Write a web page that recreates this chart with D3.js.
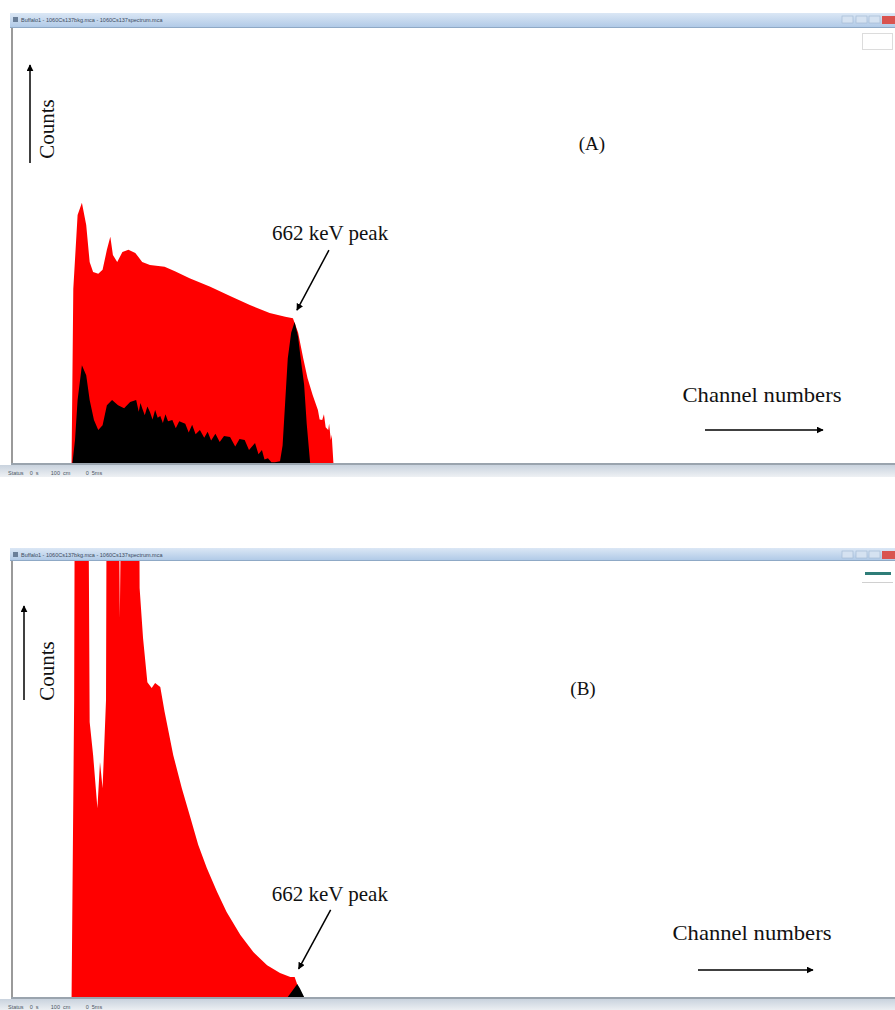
<!DOCTYPE html>
<html>
<head>
<meta charset="utf-8">
<script src="https://cdn.jsdelivr.net/npm/d3@7"></script>
<style>
  html, body { margin: 0; padding: 0; background: #fff; }
  svg { display: block; }
</style>
</head>
<body>
<script>
// Spectrum (A): channel numbers and counts
const aRedChannels = [66, 68, 70, 75, 80, 85, 89, 93, 99, 104, 109, 113, 116, 121, 127, 134, 142, 150, 159, 176, 188, 205, 229, 252, 275, 298, 316, 325, 331, 337, 342, 348, 354, 356, 359, 361, 363, 366, 367, 369, 370, 372];
const aRedCounts   = [0, 0, 400, 570, 598, 547, 462, 439, 435, 444, 490, 520, 478, 462, 485, 490, 483, 462, 455, 451, 441, 425, 405, 384, 363, 345, 336, 333, 300, 240, 195, 156, 122, 100, 99, 112, 82, 76, 90, 53, 65, 0];

const aBlackChannels = [69, 72, 75, 80, 85, 89, 94, 99, 104, 109, 115, 122, 129, 136, 143, 146, 148, 150, 153, 156, 159, 162, 165, 168, 171, 174, 177, 180, 185, 189, 193, 200, 204, 208, 212, 217, 222, 226, 230, 235, 240, 245, 252, 258, 263, 269, 274, 281, 285, 289, 292, 296, 300, 304, 310, 313, 316, 319, 323, 327, 331, 334, 338, 341, 345];
const aBlackCounts   = [0, 53, 145, 225, 202, 145, 99, 76, 87, 133, 145, 133, 126, 140, 145, 118, 138, 126, 110, 130, 117, 100, 122, 104, 108, 92, 112, 96, 99, 80, 96, 90, 70, 88, 66, 76, 58, 72, 52, 67, 48, 62, 60, 38, 55, 53, 30, 46, 20, 30, 8, 11, 2, 2, 4, 40, 140, 240, 300, 324, 290, 240, 180, 90, 0];

// Spectrum (B): low region goes off scale
const bRedChannels = [68, 71, 72, 87, 89, 93, 98, 101, 104, 108, 109, 122, 124, 127, 146, 147, 151, 156, 161, 165, 171, 176, 186, 196, 206, 215, 225, 237, 248, 264, 279, 295, 310, 322, 327, 331, 333, 336];
const bRedCounts   = [0, 681, 1400, 1400, 631, 555, 433, 539, 479, 681, 1400, 1400, 869, 1400, 1400, 938, 823, 722, 709, 720, 711, 654, 555, 479, 411, 349, 296, 241, 195, 142, 103, 73, 55, 46, 46, 23, 9, 0];

const bBlackChannels = [319, 325, 330, 333, 338];
const bBlackCounts   = [0, 16, 30, 20, 0];

const panelLabels = ["(A)", "(B)"];
const peakLabel = "662 keV peak";
const xLabel = "Channel numbers";
const yLabel = "Counts";
const windowTitle = "Buffalo1 - 1060Cs137bkg.mca - 1060Cs137spectrum.mca";
const statusText = "Status    0  s        100  cm          0  5ms";

const W = 895, H = 1010;
const channelMax = 1024, countMax = 1000;

const svg = d3.select("body").append("svg")
  .attr("width", W)
  .attr("height", H);

const defs = svg.append("defs");

const grad = defs.append("linearGradient")
  .attr("id", "titleGrad")
  .attr("x1", 0).attr("y1", 0).attr("x2", 0).attr("y2", 1);
grad.append("stop").attr("offset", "0%").attr("stop-color", "#dbe7f5");
grad.append("stop").attr("offset", "100%").attr("stop-color", "#aec8e6");

const sgrad = defs.append("linearGradient")
  .attr("id", "statusGrad")
  .attr("x1", 0).attr("y1", 0).attr("x2", 0).attr("y2", 1);
sgrad.append("stop").attr("offset", "0%").attr("stop-color", "#c9d3de");
sgrad.append("stop").attr("offset", "100%").attr("stop-color", "#eef1f4");

defs.append("marker")
  .attr("id", "head")
  .attr("viewBox", "0 0 10 10")
  .attr("refX", 9).attr("refY", 5)
  .attr("markerWidth", 7).attr("markerHeight", 7)
  .attr("markerUnits", "userSpaceOnUse")
  .attr("orient", "auto")
  .append("path")
  .attr("d", "M0,0 L10,5 L0,10 Z")
  .attr("fill", "#000");

const x = d3.scaleLinear().domain([0, channelMax]).range([13, 895]);

const panels = [
  {
    id: "A", label: panelLabels[0],
    titleTop: 13, plotTop: 28, plotBottom: 463,
    red: d3.zip(aRedChannels, aRedCounts),
    black: d3.zip(aBlackChannels, aBlackCounts),
    peak: [325, 333],
    labelPos: [592, 150],
    yArrow: { x: 30, y1: 163, y2: 65 }, yText: { x: 54, y: 129 },
    xText: { x: 762, y: 402 }, xArrow: { y: 430, x1: 705, x2: 823 },
    peakText: { dx: -21, dy: -78 }, peakArrow: { dx: 32, dy: -60 },
    legend: "box"
  },
  {
    id: "B", label: panelLabels[1],
    titleTop: 548, plotTop: 561, plotBottom: 997,
    red: d3.zip(bRedChannels, bRedCounts),
    black: d3.zip(bBlackChannels, bBlackCounts),
    peak: [327, 46],
    labelPos: [583, 695],
    yArrow: { x: 24, y1: 700, y2: 606 }, yText: { x: 54, y: 671 },
    xText: { x: 752, y: 940 }, xArrow: { y: 970, x1: 698, x2: 813 },
    peakText: { dx: -23, dy: -76 }, peakArrow: { dx: 32, dy: -59 },
    legend: "line"
  }
];

panels.forEach((p) => {
  const y = d3.scaleLinear().domain([0, countMax]).range([p.plotBottom, p.plotTop]);
  const g = svg.append("g").attr("class", "panel-" + p.id);

  // window title bar
  g.append("rect")
    .attr("x", 10).attr("y", p.titleTop)
    .attr("width", W - 10).attr("height", p.plotTop - p.titleTop)
    .attr("fill", "url(#titleGrad)");
  g.append("line")
    .attr("x1", 10).attr("x2", W)
    .attr("y1", p.plotTop - 0.5).attr("y2", p.plotTop - 0.5)
    .attr("stroke", "#8fa9c6");
  g.append("rect")
    .attr("x", 13).attr("y", p.titleTop + 4)
    .attr("width", 5).attr("height", 5)
    .attr("fill", "#6a7f99");
  g.append("text")
    .attr("x", 21).attr("y", p.titleTop + 9)
    .attr("font-family", "Liberation Sans, Arial, sans-serif")
    .attr("font-size", 5.5)
    .attr("fill", "#3b4a5c")
    .text(windowTitle);
  // title bar buttons
  [842, 856, 869].forEach((bx) => {
    g.append("rect")
      .attr("x", bx).attr("y", p.titleTop + 3)
      .attr("width", 11).attr("height", 7)
      .attr("fill", "#d5e2f1").attr("stroke", "#9fb6d1").attr("stroke-width", 0.6);
  });
  g.append("rect")
    .attr("x", 882).attr("y", p.titleTop + 3)
    .attr("width", 13).attr("height", 8)
    .attr("fill", "#d9534f");

  // plot area left border
  g.append("rect")
    .attr("x", 11).attr("y", p.plotTop)
    .attr("width", 2).attr("height", p.plotBottom - p.plotTop + 1)
    .attr("fill", "#9a9a9a");

  // spectra, clipped to plot area
  const clipId = "clip" + p.id;
  defs.append("clipPath").attr("id", clipId)
    .append("rect")
    .attr("x", 13).attr("y", p.plotTop)
    .attr("width", W - 13).attr("height", p.plotBottom - p.plotTop);

  const area = d3.area()
    .x((d) => x(d[0]))
    .y0(y(0))
    .y1((d) => y(d[1]));

  const plot = g.append("g").attr("clip-path", `url(#${clipId})`);
  plot.append("path").datum(p.red).attr("d", area).attr("fill", "#ff0000");
  plot.append("path").datum(p.black).attr("d", area).attr("fill", "#000000");

  // bottom border + status bar
  g.append("rect")
    .attr("x", 11).attr("y", p.plotBottom)
    .attr("width", W - 11).attr("height", 2)
    .attr("fill", "#9aa4ae");
  g.append("rect")
    .attr("x", 0).attr("y", p.plotBottom + 2)
    .attr("width", W).attr("height", 12)
    .attr("fill", "url(#statusGrad)");
  g.append("text")
    .attr("x", 8).attr("y", p.plotBottom + 12)
    .attr("font-family", "Liberation Sans, Arial, sans-serif")
    .attr("font-size", 5.5)
    .attr("fill", "#4a5563")
    .attr("xml:space", "preserve")
    .text(statusText);

  // small legend marks top right
  if (p.legend === "box") {
    g.append("rect")
      .attr("x", 862.5).attr("y", p.plotTop + 5.5)
      .attr("width", 30).attr("height", 16)
      .attr("fill", "none").attr("stroke", "#dcdcdc");
  } else {
    g.append("rect")
      .attr("x", 865).attr("y", p.plotTop + 11)
      .attr("width", 26).attr("height", 3)
      .attr("fill", "#2e7d78");
    g.append("line")
      .attr("x1", 862).attr("x2", 893)
      .attr("y1", p.plotTop + 21.5).attr("y2", p.plotTop + 21.5)
      .attr("stroke", "#d0d0d0");
  }

  const serif = "Liberation Serif, Times New Roman, serif";

  // panel label
  g.append("text")
    .attr("x", p.labelPos[0]).attr("y", p.labelPos[1])
    .attr("text-anchor", "middle")
    .attr("font-family", serif).attr("font-size", 19)
    .attr("fill", "#111")
    .text(p.label);

  // counts arrow + label
  g.append("line")
    .attr("x1", p.yArrow.x).attr("x2", p.yArrow.x)
    .attr("y1", p.yArrow.y1).attr("y2", p.yArrow.y2)
    .attr("stroke", "#000").attr("stroke-width", 1.5)
    .attr("marker-end", "url(#head)");
  g.append("text")
    .attr("transform", `translate(${p.yText.x},${p.yText.y}) rotate(-90)`)
    .attr("text-anchor", "middle")
    .attr("font-family", serif).attr("font-size", 21)
    .attr("fill", "#111")
    .text(yLabel);

  // channel numbers label + arrow
  g.append("text")
    .attr("x", p.xText.x).attr("y", p.xText.y)
    .attr("text-anchor", "middle")
    .attr("font-family", serif).attr("font-size", 21)
    .attr("fill", "#111")
    .attr("textLength", 159).attr("lengthAdjust", "spacingAndGlyphs")
    .text(xLabel);
  g.append("line")
    .attr("x1", p.xArrow.x1).attr("x2", p.xArrow.x2)
    .attr("y1", p.xArrow.y).attr("y2", p.xArrow.y)
    .attr("stroke", "#000").attr("stroke-width", 1.5)
    .attr("marker-end", "url(#head)");

  // 662 keV peak annotation, positioned from the peak point
  const px = x(p.peak[0]), py = y(p.peak[1]);
  const tipX = px + 4, tipY = py - 8;
  g.append("line")
    .attr("x1", tipX + p.peakArrow.dx).attr("y1", tipY + p.peakArrow.dy)
    .attr("x2", tipX).attr("y2", tipY)
    .attr("stroke", "#000").attr("stroke-width", 1.5)
    .attr("marker-end", "url(#head)");
  g.append("text")
    .attr("x", px + p.peakText.dx).attr("y", py + p.peakText.dy)
    .attr("font-family", serif).attr("font-size", 21)
    .attr("fill", "#111")
    .text(peakLabel);
});
</script>
</body>
</html>
